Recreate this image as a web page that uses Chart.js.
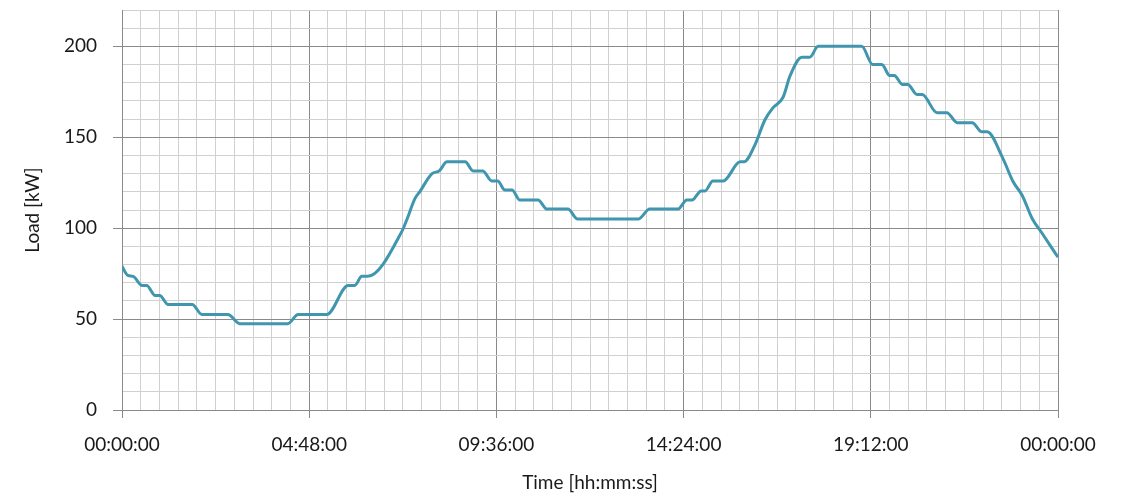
<!DOCTYPE html>
<html>
<head>
<meta charset="utf-8">
<script src="https://cdn.jsdelivr.net/npm/chart.js@4"></script>
<style>
  html, body { margin: 0; padding: 0; background: #fff; }
  #wrap { width: 1122px; height: 496px; }
</style>
</head>
<body>
<div id="wrap"><canvas id="loadChart"></canvas></div>
<script>
// time of day in minutes, load in kW
const timeMin = [0, 9, 17, 31, 38, 51, 58, 71, 108, 123, 163, 181, 255, 271, 315, 348, 358, 369, 378,
    431, 438, 451, 458, 477, 488, 500, 528, 540, 555, 569, 578, 589, 600, 612, 640, 654, 686,
    701, 794, 812, 855, 869, 877, 891, 897, 909, 925, 951, 957, 974, 989, 1001, 1017, 1028,
    1046, 1058, 1071, 1138, 1155, 1169, 1181, 1188, 1201, 1209, 1223, 1231, 1254, 1269,
    1285, 1308, 1323, 1331, 1355, 1371, 1385, 1400, 1415, 1440];
const loadKW = [79, 74, 73.5, 68.5, 68.5, 63, 63, 58, 58, 52.5, 52.5, 47.5, 47.5, 52.5, 52.5, 68.5, 68.5, 73.5, 73.5,
    98.5, 104.5, 116.5, 120, 130, 131.5, 136.5, 136.5, 131.5, 131.5, 126, 126, 121, 121, 115.5, 115.5, 110.5, 110.5,
    105, 105, 110.5, 110.5, 115.5, 115.5, 120.5, 120.5, 126, 126, 136.5, 136.5, 146, 159.5, 166, 172, 184,
    194, 194, 200, 200, 190, 190, 184, 184, 179, 179, 173.5, 173.5, 163.5, 163.5,
    158, 158, 153, 153, 138.5, 125.5, 118, 105.5, 97.5, 84];
const xTickLabels = ["00:00:00", "04:48:00", "09:36:00", "14:24:00", "19:12:00", "00:00:00"];

const points = timeMin.map((t, i) => ({ x: t, y: loadKW[i] }));

const majorGrid = "#8a8a8a";
const minorGrid = "#d0d0d0";
const textCol = "#1a1a1a";

// minor steps of 28.8 min, every 10th one is a labelled major line
function isMajorX(v) { return Math.round(v / 28.8) % 10 === 0; }
function isMajorY(v) { return Math.round(v) % 50 === 0; }

new Chart(document.getElementById("loadChart"), {
    type: "line",
    data: {
        datasets: [{
            data: points,
            borderColor: "#3f96ae",
            borderWidth: 3,
            pointRadius: 0,
            fill: false,
            cubicInterpolationMode: "monotone"
        }]
    },
    options: {
        responsive: true,
        maintainAspectRatio: false,
        animation: false,
        layout: { padding: { top: 10, right: 64, left: 0, bottom: 0 } },
        plugins: { legend: { display: false }, tooltip: { enabled: false } },
        scales: {
            x: {
                type: "linear",
                min: 0,
                max: 1440,
                afterFit: s => { s.height = 86; s.paddingLeft = 0; s.paddingRight = 0; },
                border: { color: majorGrid, width: 1 },
                grid: {
                    color: c => isMajorX(c.tick.value) ? majorGrid : minorGrid,
                    tickColor: c => isMajorX(c.tick.value) ? majorGrid : "rgba(0,0,0,0)",
                    tickLength: 8
                },
                ticks: {
                    stepSize: 28.8,
                    autoSkip: false,
                    maxRotation: 0,
                    padding: 15,
                    color: textCol,
                    font: { family: "Lato", size: 19 },
                    callback: v => isMajorX(v) ? xTickLabels[Math.round(v / 288)] : ""
                },
                title: {
                    display: true,
                    text: "Time [hh:mm:ss]",
                    color: textCol,
                    font: { family: "Lato", size: 19 },
                    padding: { top: 0, bottom: 2 }
                }
            },
            y: {
                min: 0,
                max: 220,
                afterFit: s => { s.width = 122; s.paddingTop = 0; s.paddingBottom = 0; },
                border: { color: majorGrid, width: 1 },
                grid: {
                    color: c => isMajorY(c.tick.value) ? majorGrid : minorGrid,
                    tickColor: c => isMajorY(c.tick.value) ? majorGrid : "rgba(0,0,0,0)",
                    tickLength: 9
                },
                ticks: {
                    stepSize: 10,
                    autoSkip: false,
                    padding: 16,
                    color: textCol,
                    font: { family: "Lato", size: 19 },
                    callback: v => isMajorY(v) ? String(v) : ""
                },
                title: {
                    display: true,
                    text: "Load [kW]",
                    color: textCol,
                    font: { family: "Lato", size: 19 },
                    padding: { top: 21, bottom: 0 }
                }
            }
        }
    }
});
</script>
</body>
</html>
